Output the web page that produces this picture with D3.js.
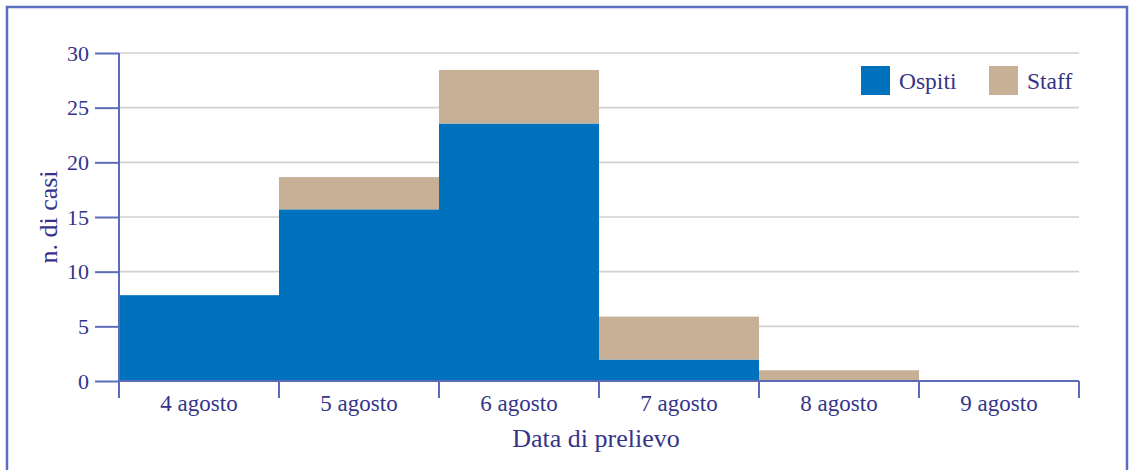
<!DOCTYPE html>
<html><head><meta charset="utf-8">
<script src="https://cdn.jsdelivr.net/npm/d3@7"></script>
<style>
body{margin:0;background:#fff;}
svg{display:block;font-family:"Liberation Serif","Times New Roman",serif;}
</style></head>
<body><svg id="c" width="1132" height="470"></svg>
<script>
const categories = ["4 agosto","5 agosto","6 agosto","7 agosto","8 agosto","9 agosto"];
const ospiti = [7.85, 15.7, 23.55, 1.96, 0, 0];
const staff  = [0, 2.95, 4.9, 3.93, 0.98, 0];
const seriesNames = ["Ospiti","Staff"];
const yTicks = [0,5,10,15,20,25,30];

const colors = {Ospiti:"#0071bc", Staff:"#c8b097"};
const textCol = "#35348a", axisCol = "#5b6db8", frameCol = "#5a6ec0";

const svg = d3.select("#c");
const L = 119, R = 1079, T = 53, B = 381;

svg.append("rect").attr("x",7).attr("y",7).attr("width",1120).attr("height",480)
  .attr("fill","none").attr("stroke",frameCol).attr("stroke-width",2.5);

const x = d3.scaleBand().domain(categories).range([L,R]).padding(0);
const y = d3.scaleLinear().domain([0,30]).range([B,T]);

// gridlines
svg.append("g").selectAll("line").data(yTicks.filter(d=>d>0)).join("line")
  .attr("x1",L).attr("x2",R).attr("y1",d=>y(d)).attr("y2",d=>y(d))
  .attr("stroke","#d0d0d0").attr("stroke-width",1.6);

// stacked bars
const rows = categories.map((c,i)=>({cat:c, Ospiti:ospiti[i], Staff:staff[i]}));
const stacked = d3.stack().keys(seriesNames)(rows);
svg.append("g").selectAll("g").data(stacked).join("g")
  .attr("fill",d=>colors[d.key])
  .selectAll("rect").data(d=>d).join("rect")
  .attr("x",d=>x(d.data.cat)).attr("width",x.bandwidth())
  .attr("y",d=>y(d[1])).attr("height",d=>y(d[0])-y(d[1]));

// y axis
const yAxis = d3.axisLeft(y).tickValues(yTicks).tickSize(24).tickPadding(6);
const gy = svg.append("g").attr("transform",`translate(${L},0)`).call(yAxis);
gy.select(".domain").remove();
gy.selectAll(".tick line").attr("stroke",axisCol).attr("stroke-width",2);
gy.selectAll(".tick text").attr("fill",textCol).attr("font-size",22)
  .attr("font-family","Liberation Serif, serif");
svg.append("line").attr("x1",L).attr("x2",L).attr("y1",T).attr("y2",398)
  .attr("stroke",axisCol).attr("stroke-width",2);

// x axis
svg.append("line").attr("x1",L).attr("x2",R).attr("y1",B).attr("y2",B)
  .attr("stroke",axisCol).attr("stroke-width",2);
const bounds = categories.map(c=>x(c)).concat([x(categories[categories.length-1])+x.bandwidth()]);
svg.append("g").selectAll("line").data(bounds).join("line")
  .attr("x1",d=>d).attr("x2",d=>d).attr("y1",B).attr("y2",398)
  .attr("stroke",axisCol).attr("stroke-width",2);
const xAxis = d3.axisBottom(x).tickSize(0).tickPadding(0);
const gx = svg.append("g").attr("transform",`translate(0,${B})`).call(xAxis);
gx.select(".domain").remove();
gx.selectAll(".tick text").attr("fill",textCol).attr("font-size",23)
  .attr("font-family","Liberation Serif, serif").attr("dy",null).attr("y",30);

// axis titles
svg.append("text").attr("x",(L+R)/2-3).attr("y",447).attr("text-anchor","middle")
  .attr("fill",textCol).attr("font-size",26).text("Data di prelievo");
svg.append("text").attr("transform","translate(57,217) rotate(-90)")
  .attr("text-anchor","middle").attr("fill",textCol).attr("font-size",26).text("n. di casi");

// legend
const lg = svg.append("g");
const legX = [861, 989];
seriesNames.forEach((s,i)=>{
  lg.append("rect").attr("x",legX[i]).attr("y",66).attr("width",29).attr("height",29).attr("fill",colors[s]);
  lg.append("text").attr("x",legX[i]+38).attr("y",89).attr("fill",textCol).attr("font-size",23.5).text(s);
});
</script></body></html>
